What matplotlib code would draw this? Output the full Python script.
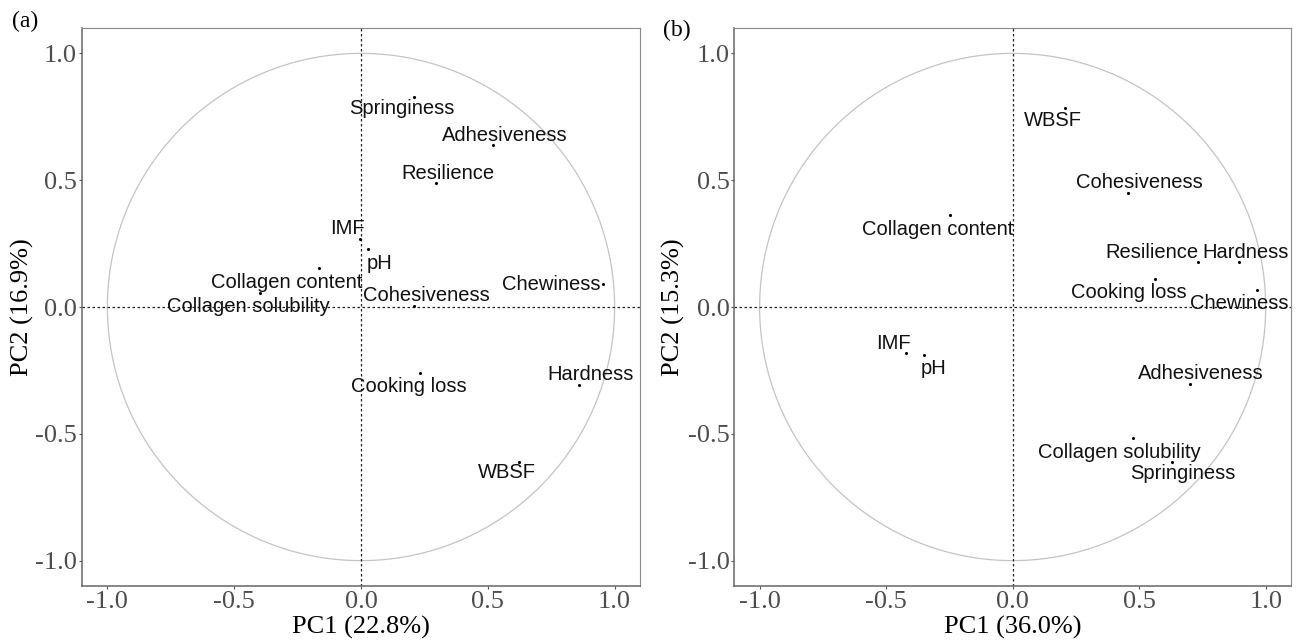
import numpy as np
import matplotlib
matplotlib.use("Agg")
import matplotlib.pyplot as plt

# ---------------- data ----------------
vars_a = ["Springiness", "Adhesiveness", "Resilience", "IMF", "pH", "Collagen content",
          "Collagen solubility", "Cohesiveness", "Chewiness", "Cooking loss", "Hardness", "WBSF"]
pc1_a = [0.207, 0.522, 0.297, -0.002, 0.028, -0.167, -0.40, 0.207, 0.956, 0.234, 0.861, 0.621]
pc2_a = [0.828, 0.638, 0.487, 0.269, 0.227, 0.152, 0.056, 0.004, 0.091, -0.261, -0.308, -0.610]

vars_b = ["Collagen content", "WBSF", "Cohesiveness", "Resilience", "Hardness", "Cooking loss",
          "Chewiness", "IMF", "pH", "Adhesiveness", "Collagen solubility", "Springiness"]
pc1_b = [-0.247, 0.206, 0.455, 0.733, 0.895, 0.563, 0.967, -0.420, -0.352, 0.701, 0.475, 0.628]
pc2_b = [0.362, 0.786, 0.451, 0.176, 0.176, 0.111, 0.067, -0.182, -0.189, -0.303, -0.517, -0.611]

xlab_a, ylab_a = "PC1 (22.8%)", "PC2 (16.9%)"
xlab_b, ylab_b = "PC1 (36.0%)", "PC2 (15.3%)"
ticks = [-1.0, -0.5, 0.0, 0.5, 1.0]
tick_labels = ["-1.0", "-0.5", "0.0", "0.5", "1.0"]

# label offsets (pixels) -- layout only
off_a = [(-12, -12), (11, 10), (12, 10), (-13, 10), (11, -14), (-32, -14),
         (-11, -14), (13, 10), (-52, -1), (-12, -13), (11, 11), (-12, -11)]
off_b = [(-12, -14), (-12, -13), (12, 10), (-46, 10), (6, 10), (-26, -14),
         (-18, -13), (-13, 10), (10, -14), (11, 10), (-13, -14), (11, -12)]

W, H = 1298, 644
fig = plt.figure(figsize=(W / 100, H / 100), dpi=100)

serif = "Liberation Serif"
sans = "Liberation Sans"


def panel(rect, names, xs, ys, offs, xlab, ylab, tag, tagpos, ylabx):
    ax = fig.add_axes(rect)
    ax.set_xlim(-1.1, 1.1)
    ax.set_ylim(-1.1, 1.1)
    t = np.linspace(0, 2 * np.pi, 400)
    ax.plot(np.cos(t), np.sin(t), color="#c4c4c4", lw=0.9, zorder=1)
    ax.axhline(0, color="#222222", lw=0.9, ls=(0, (2, 2)), zorder=1)
    ax.axvline(0, color="#222222", lw=0.9, ls=(0, (2, 2)), zorder=1)
    ax.scatter(xs, ys, s=5, color="black", zorder=3, linewidths=0)
    for n, x, y, (dx, dy) in zip(names, xs, ys, offs):
        ax.annotate(n, (x, y), xytext=(dx, dy), textcoords="offset pixels",
                    ha="center", va="center", fontsize=14.5, family=sans,
                    color="#111111", zorder=4)
    ax.set_xticks(ticks)
    ax.set_yticks(ticks)
    ax.set_xticklabels(tick_labels, family=serif, fontsize=19, color="#4d4d4d")
    ax.set_yticklabels(tick_labels, family=serif, fontsize=19, color="#4d4d4d")
    ax.tick_params(length=2.5, width=0.8, color="#555555", pad=1)
    for s in ["left", "bottom"]:
        ax.spines[s].set_color("#666666")
        ax.spines[s].set_linewidth(1.1)
    for s in ["top", "right"]:
        ax.spines[s].set_color("#8a8a8a")
        ax.spines[s].set_linewidth(0.8)
    ax.set_xlabel(xlab, family=serif, fontsize=19, labelpad=2)
    ax.set_ylabel("")
    fig.text(ylabx / W, 1 - 307 / H, ylab, family=serif, fontsize=19,
             rotation=90, ha="center", va="center")
    fig.text(tagpos[0] / W, 1 - tagpos[1] / H, tag, family=serif, fontsize=17,
             ha="center", va="center")
    return ax


bottom = 1 - 586 / H
height = (586 - 28) / H
panel([82 / W, bottom, (640 - 82) / W, height], vars_a, pc1_a, pc2_a, off_a,
      xlab_a, ylab_a, "(a)", (25, 21), 22)
panel([734.3 / W, bottom, (1291 - 734.3) / W, height], vars_b, pc1_b, pc2_b, off_b,
      xlab_b, ylab_b, "(b)", (677, 30), 673)

fig.savefig("out.png", dpi=100)
